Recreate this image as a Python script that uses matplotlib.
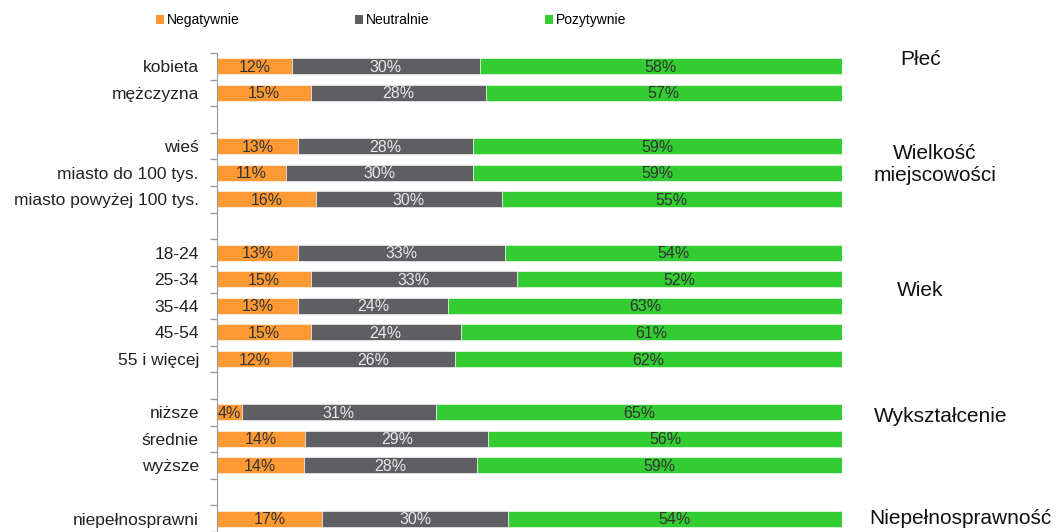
import matplotlib
matplotlib.use("Agg")
import matplotlib.pyplot as plt
from matplotlib.patches import Patch
from matplotlib.transforms import blended_transform_factory
import numpy as np

plt.rcParams["font.family"] = ["Liberation Sans", "DejaVu Sans"]

# rows ("" = gap between groups)
categories = ["kobieta", "mężczyzna", "",
              "wieś", "miasto do 100 tys.", "miasto powyżej 100 tys.", "",
              "18-24", "25-34", "35-44", "45-54", "55 i więcej", "",
              "niższe", "średnie", "wyższe", "",
              "niepełnosprawni"]
negatywnie = [12, 15, 0, 13, 11, 16, 0, 13, 15, 13, 15, 12, 0, 4, 14, 14, 0, 17]
neutralnie = [30, 28, 0, 28, 30, 30, 0, 33, 33, 24, 24, 26, 0, 31, 29, 28, 0, 30]
pozytywnie = [58, 57, 0, 59, 59, 55, 0, 54, 52, 63, 61, 62, 0, 65, 56, 59, 0, 54]

series_names = ["Negatywnie", "Neutralnie", "Pozytywnie"]
colors = ["#FF9933", "#5F5F63", "#33CC33"]
text_colors = ["#333333", "#E8E8E8", "#333333"]

groups = ["Płeć", "Wielkość\nmiejscowości", "Wiek", "Wykształcenie", "Niepełnosprawność"]
group_rows = [-0.25, 3.68, 8.42, 13.16, 17.0]
group_x = [1.126, 1.149, 1.125, 1.158, 1.043]
group_ha = ["center", "center", "center", "center", "left"]

fig = plt.figure(figsize=(10.59, 5.32), dpi=100)
ax = fig.add_axes([217 / 1059, 0.0, 625 / 1059, 1 - 53 / 532])

y = np.arange(len(categories))
data = np.array([negatywnie, neutralnie, pozytywnie], dtype=float)
tot = data.sum(axis=0)
tot[tot == 0] = 1
shares = data / tot * 100

left = np.zeros(len(categories))
for k in range(3):
  ax.barh(y, shares[k], left=left, height=0.6, color=colors[k],
          edgecolor="white", linewidth=0.4)
  raw = data[k]
  for i in range(len(categories)):
    if categories[i] == "":
      continue
    ax.text(left[i] + shares[k][i] / 2, y[i] + 0.04, f"{int(raw[i])}%",
            ha="center", va="center", fontsize=11.5, color=text_colors[k])
  left += shares[k]

ax.set_xlim(0, 100)
ax.set_ylim(len(categories) - 0.5, -0.5)
ax.set_yticks(y)
ax.set_yticklabels(categories, fontsize=12.5, color="#222222")
ax.tick_params(axis="y", which="major", length=0, pad=13)
ax.set_yticks(np.arange(-0.5, len(categories), 1.0), minor=True)
ax.tick_params(axis="y", which="minor", length=5, color="#999999", width=1)
ax.xaxis.set_visible(False)
for s in ["top", "right", "bottom"]:
  ax.spines[s].set_visible(False)
ax.spines["left"].set_color("#999999")

tr = blended_transform_factory(ax.transAxes, ax.transData)
for g, gy, gx, ha in zip(groups, group_rows, group_x, group_ha):
  ax.text(gx, gy, g, transform=tr, ha=ha, va="center", fontsize=15,
          color="#111111", linespacing=1.2, clip_on=False)

handles = [Patch(facecolor=c, edgecolor="none") for c in colors]
fig.legend(handles, series_names, loc="center left", bbox_to_anchor=(143 / 1059, 1 - 20 / 532),
           ncol=3, frameon=False, fontsize=10, handlelength=0.6, handleheight=0.6,
           handletextpad=0.2, columnspacing=8.3)

fig.savefig("out.png", dpi=100)
